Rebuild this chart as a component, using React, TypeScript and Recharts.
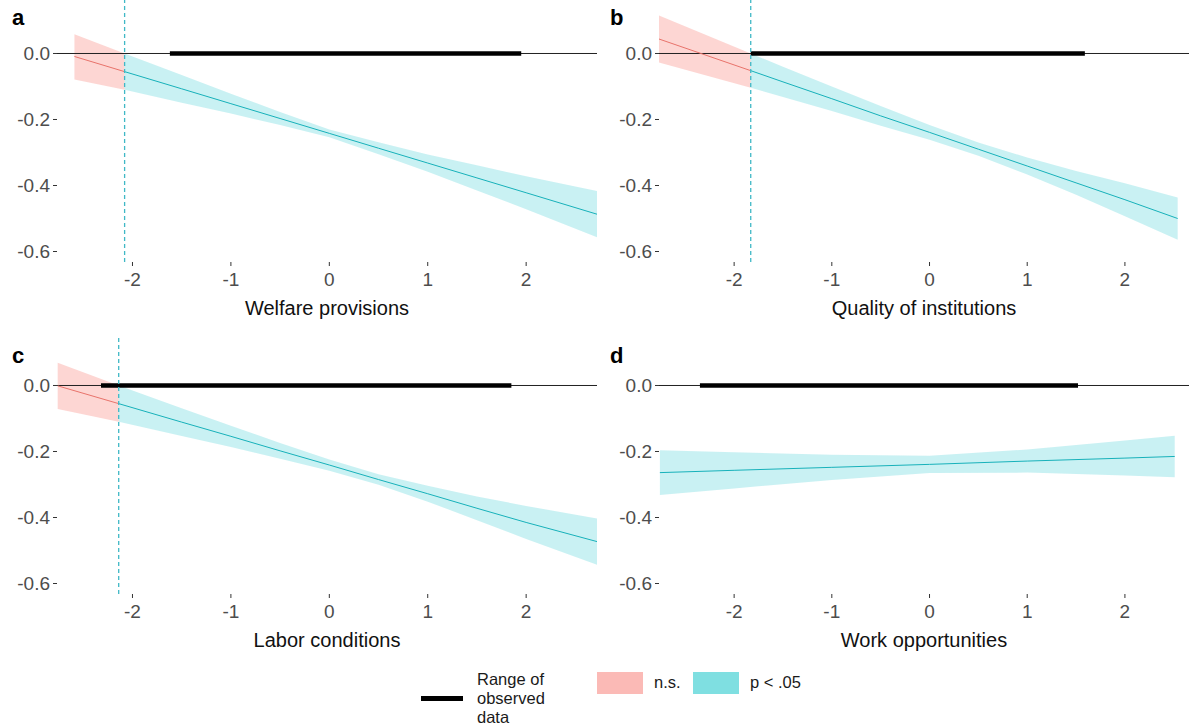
import { Area, ComposedChart, Line, ReferenceLine, XAxis, YAxis } from "recharts";

// marginal effect panels (a-d): estimate + 95% CI, split at significance cut
const FONT = "'Liberation Sans', Arial, sans-serif";
const NS_FILL = "#F8766D";
const SIG_FILL = "#00BFC4";
const NS_LINE = "#e8736b";
const SIG_LINE = "#17b1ba";
const TICK = { fill: "#4d4d4d", fontSize: 19, fontFamily: FONT };

const Y_TICKS = [-0.6, -0.4, -0.2, 0];
const X_TICKS = [-2, -1, 0, 1, 2];

// a: Welfare provisions
const aX = [-2.59, -2.08, -1.5, -1, -0.5, 0, 0.5, 1, 1.5, 2, 2.72];
const aEst = [-0.009, -0.055, -0.107, -0.152, -0.197, -0.242, -0.287, -0.332, -0.377, -0.422, -0.487];
const aLo = [-0.079, -0.11, -0.149, -0.182, -0.217, -0.254, -0.305, -0.358, -0.415, -0.472, -0.557];
const aHi = [0.058, 0.0, -0.065, -0.122, -0.177, -0.23, -0.269, -0.306, -0.339, -0.372, -0.417];
const aCut = -2.08;
const aObs = [-1.62, 1.95];

// b: Quality of institutions
const bX = [-2.77, -1.83, -1.5, -1, -0.5, 0, 0.5, 1, 1.5, 2, 2.54];
const bEst = [0.044, -0.052, -0.086, -0.137, -0.189, -0.239, -0.29, -0.341, -0.392, -0.443, -0.5];
const bLo = [-0.027, -0.104, -0.132, -0.174, -0.219, -0.261, -0.31, -0.367, -0.428, -0.493, -0.564];
const bHi = [0.115, 0.0, -0.04, -0.1, -0.159, -0.217, -0.27, -0.315, -0.356, -0.393, -0.436];
const bCut = -1.83;
const bObs = [-1.83, 1.59];

// c: Labor conditions
const cX = [-2.76, -2.14, -1.5, -1, -0.5, 0, 0.5, 1, 1.5, 2, 2.72];
const cEst = [-0.001, -0.055, -0.111, -0.154, -0.198, -0.241, -0.285, -0.328, -0.372, -0.415, -0.473];
const cLo = [-0.071, -0.11, -0.153, -0.186, -0.222, -0.258, -0.301, -0.352, -0.408, -0.465, -0.543];
const cHi = [0.069, 0.0, -0.069, -0.122, -0.174, -0.224, -0.269, -0.304, -0.336, -0.365, -0.403];
const cCut = -2.14;
const cObs = [-2.32, 1.85];

// d: Work opportunities (significant everywhere)
const dX = [-2.76, -2, -1, 0, 1, 2, 2.51];
const dEst = [-0.264, -0.257, -0.248, -0.239, -0.229, -0.22, -0.215];
const dLo = [-0.332, -0.312, -0.286, -0.265, -0.264, -0.273, -0.278];
const dHi = [-0.196, -0.202, -0.21, -0.213, -0.194, -0.167, -0.152];
const dObs = [-2.35, 1.52];

type PanelProps = {
  letter: string;
  title: string;
  x: number[];
  est: number[];
  lo: number[];
  hi: number[];
  cut?: number;
  obs: number[];
  left: number;
  top: number;
  width: number;
  axisWidth: number;
  marginTop: number;
  marginRight: number;
  xDomain: [number, number];
  yDomain: [number, number];
  plotHeight: number;
};

function Panel(p: PanelProps) {
  const rows = p.x.map((v, i) => ({ x: v, est: p.est[i], band: [p.lo[i], p.hi[i]] }));
  const nsRows = p.cut == null ? [] : rows.filter((r) => r.x <= p.cut!);
  const sigRows = p.cut == null ? rows : rows.filter((r) => r.x >= p.cut!);
  const obsRows = p.obs.map((v) => ({ x: v, zero: 0 }));
  const height = p.marginTop + p.plotHeight + 60;
  return (
    <div style={{ position: "absolute", left: p.left, top: p.top }}>
      <ComposedChart
        width={p.width}
        height={height}
        margin={{ top: p.marginTop, right: p.marginRight, bottom: 0, left: 0 }}
      >
        <XAxis
          dataKey="x"
          type="number"
          domain={p.xDomain}
          allowDataOverflow
          ticks={X_TICKS}
          axisLine={false}
          tickLine={{ stroke: "#333" }}
          tickSize={4}
          tickMargin={7}
          tick={TICK}
          height={60}
          label={{ value: p.title, position: "insideBottom", offset: 7, fill: "#111", fontSize: 20, fontFamily: FONT }}
        />
        <YAxis
          type="number"
          domain={p.yDomain}
          allowDataOverflow
          ticks={Y_TICKS}
          tickFormatter={(v: number) => v.toFixed(1)}
          axisLine={false}
          tickLine={{ stroke: "#333" }}
          tickSize={4}
          tickMargin={3}
          tick={TICK}
          width={p.axisWidth}
        />
        {nsRows.length > 0 && (
          <Area data={nsRows} dataKey="band" stroke="none" fill={NS_FILL} fillOpacity={0.3} isAnimationActive={false} />
        )}
        <Area data={sigRows} dataKey="band" stroke="none" fill={SIG_FILL} fillOpacity={0.21} isAnimationActive={false} />
        <ReferenceLine y={0} stroke="#222" strokeWidth={1} />
        <Line data={obsRows} dataKey="zero" stroke="#000" strokeWidth={4.5} dot={false} isAnimationActive={false} />
        {nsRows.length > 0 && (
          <Line data={nsRows} dataKey="est" stroke={NS_LINE} strokeWidth={1} dot={false} isAnimationActive={false} />
        )}
        <Line data={sigRows} dataKey="est" stroke={SIG_LINE} strokeWidth={1} dot={false} isAnimationActive={false} />
        {p.cut != null && (
          <ReferenceLine x={p.cut} stroke="#3fb8c6" strokeWidth={1.3} strokeDasharray="4 3" />
        )}
      </ComposedChart>
      <div
        style={{
          position: "absolute",
          left: 12,
          top: p.marginTop === 0 ? 5 : 343 - 332,
          fontFamily: FONT,
          fontWeight: "bold",
          fontSize: 22,
          color: "#000",
        }}
      >
        {p.letter}
      </div>
    </div>
  );
}

const AC_X: [number, number] = [-2.767, 2.72];
const BD_X: [number, number] = [-2.769, 2.656];
const TOP_Y: [number, number] = [-0.6318, 0.1621];
const BOT_Y: [number, number] = [-0.6318, 0.1439];

export default function App() {
  return (
    <div style={{ position: "absolute", left: 0, top: 0, width: 1189, height: 727, background: "#fff", overflow: "hidden" }}>
      <Panel letter="a" title="Welfare provisions" x={aX} est={aEst} lo={aLo} hi={aHi} cut={aCut} obs={aObs}
        left={0} top={0} width={600} axisWidth={57} marginTop={0} marginRight={3} xDomain={AC_X} yDomain={TOP_Y} plotHeight={262} />
      <Panel letter="b" title="Quality of institutions" x={bX} est={bEst} lo={bLo} hi={bHi} cut={bCut} obs={bObs}
        left={598} top={0} width={591} axisWidth={61} marginTop={0} marginRight={0} xDomain={BD_X} yDomain={TOP_Y} plotHeight={262} />
      <Panel letter="c" title="Labor conditions" x={cX} est={cEst} lo={cLo} hi={cHi} cut={cCut} obs={cObs}
        left={0} top={332} width={600} axisWidth={57} marginTop={6} marginRight={3} xDomain={AC_X} yDomain={BOT_Y} plotHeight={256} />
      <Panel letter="d" title="Work opportunities" x={dX} est={dEst} lo={dLo} hi={dHi} obs={dObs}
        left={598} top={332} width={591} axisWidth={61} marginTop={6} marginRight={0} xDomain={BD_X} yDomain={BOT_Y} plotHeight={256} />

      {/* legend */}
      <div style={{ position: "absolute", left: 421, top: 696, width: 42, height: 5, background: "#000" }} />
      <div style={{ position: "absolute", left: 477, top: 670, fontFamily: FONT, fontSize: 16.5, lineHeight: "19px", color: "#1a1a1a" }}>
        Range of<br />observed<br />data
      </div>
      <div style={{ position: "absolute", left: 597, top: 672, width: 46, height: 22, background: NS_FILL, opacity: 0.5 }} />
      <div style={{ position: "absolute", left: 654, top: 673, fontFamily: FONT, fontSize: 16.5, lineHeight: "19px", color: "#1a1a1a" }}>
        n.s.
      </div>
      <div style={{ position: "absolute", left: 693, top: 672, width: 46, height: 22, background: SIG_FILL, opacity: 0.5 }} />
      <div style={{ position: "absolute", left: 750, top: 673, fontFamily: FONT, fontSize: 16.5, lineHeight: "19px", color: "#1a1a1a" }}>
        p &lt; .05
      </div>
    </div>
  );
}
